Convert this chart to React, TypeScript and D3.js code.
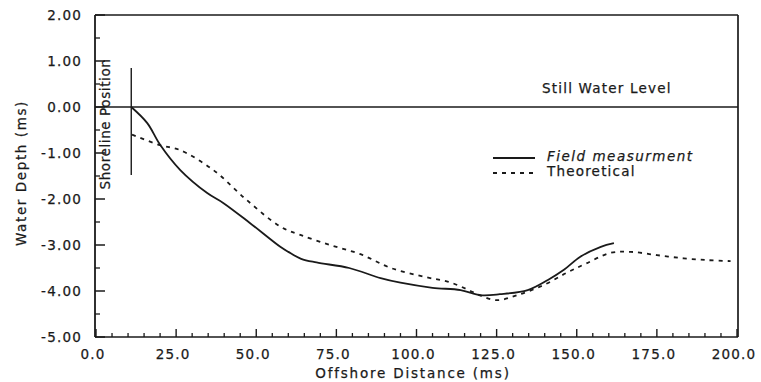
import React from "react";
import * as d3 from "d3";

const fieldX = [11, 16, 20, 26.3, 34.7, 39.8, 48, 57.5, 60, 64, 68.8, 79, 88.8, 95, 105, 113.75, 120, 126, 134.7, 141, 146, 151, 157.5, 161.6];
const fieldY = [0, -0.35, -0.82, -1.37, -1.87, -2.09, -2.52, -3.04, -3.15, -3.3, -3.38, -3.5, -3.72, -3.82, -3.93, -3.98, -4.09, -4.07, -3.98, -3.76, -3.54, -3.26, -3.04, -2.96];
const theoX = [11.25, 20, 26, 36.6, 47, 57.5, 63.75, 73, 82.5, 92, 103, 110, 116, 120, 125, 131.5, 139.7, 147, 153, 160.6, 166.9, 175, 183.4, 191, 198];
const theoY = [-0.6, -0.83, -0.93, -1.37, -2.02, -2.6, -2.78, -3.0, -3.2, -3.5, -3.7, -3.8, -3.97, -4.1, -4.2, -4.09, -3.87, -3.6, -3.4, -3.17, -3.15, -3.22, -3.29, -3.33, -3.35];
const xTicks = [0, 25, 50, 75, 100, 125, 150, 175, 200];
const yTicks = [2, 1, 0, -1, -2, -3, -4, -5];
const legendLabels = ["Field measurment", "Theoretical"];

const W = 761, H = 382;
const FONT = "'DejaVu Sans', sans-serif";
const INK = "#1a1a1a";
const FS = 13.5;

export default function App() {
  const x = d3.scaleLinear().domain([0, 200]).range([96, 737]);
  const y = d3.scaleLinear().domain([-5, 2]).range([337, 15]);
  const line = d3.line<[number, number]>().x(d => x(d[0])).y(d => y(d[1])).curve(d3.curveCatmullRom);
  const field = fieldX.map((v, i) => [v, fieldY[i]] as [number, number]);
  const theo = theoX.map((v, i) => [v, theoY[i]] as [number, number]);
  const x0 = 95, x1 = 738;
  const minorX = d3.range(0, 201, 5).filter(v => v % 25 !== 0);
  const minorY = d3.range(-4.5, 2, 1);
  const txt = { fontFamily: FONT, fontSize: FS, fill: INK, stroke: INK, strokeWidth: 0.25 };
  return (
    <svg width={W} height={H} style={{ position: "absolute", left: 0, top: 0, background: "#fff" }}>
      {/* frame */}
      <line x1={x0} x2={x0} y1={y(2)} y2={y(-5)} stroke={INK} strokeWidth={1.8} />
      <line x1={x0} x2={x1} y1={y(-5)} y2={y(-5)} stroke={INK} strokeWidth={1.6} />
      <line x1={x0} x2={x1} y1={y(2)} y2={y(2)} stroke={INK} strokeWidth={1.4} />
      <line x1={x1} x2={x1} y1={y(2)} y2={y(-5)} stroke={INK} strokeWidth={1.7} />
      {/* still water level */}
      <line x1={x0} x2={x1} y1={y(0)} y2={y(0)} stroke={INK} strokeWidth={1.6} />
      {/* y ticks */}
      {yTicks.map(t => (
        <g key={"yt" + t}>
          <line x1={x0} x2={x0 + 10} y1={y(t)} y2={y(t)} stroke={INK} strokeWidth={1.5} />
          <text x={82} y={y(t)} dy="0.36em" textAnchor="end" letterSpacing={1.2} {...txt}>{t.toFixed(2)}</text>
        </g>
      ))}
      {minorY.map(t => (
        <line key={"ym" + t} x1={x0} x2={x0 + 5} y1={y(t)} y2={y(t)} stroke={INK} strokeWidth={1.3} />
      ))}
      {/* x ticks */}
      {xTicks.map(t => (
        <g key={"xt" + t}>
          <line x1={x(t)} x2={x(t)} y1={y(-5)} y2={y(-5) - 8} stroke={INK} strokeWidth={1.4} />
          <text x={x(t) - 3} y={359} textAnchor="middle" letterSpacing={1.2} {...txt}>{t.toFixed(1)}</text>
        </g>
      ))}
      {minorX.map(t => (
        <line key={"xm" + t} x1={x(t)} x2={x(t)} y1={y(-5)} y2={y(-5) - 4} stroke={INK} strokeWidth={1.3} />
      ))}
      {/* axis titles */}
      <text x={413} y={378} textAnchor="middle" letterSpacing={1.8} {...txt}>Offshore Distance (ms)</text>
      <text transform={`translate(26,173) rotate(-90)`} textAnchor="middle" letterSpacing={1.6} {...txt}>Water Depth (ms)</text>
      {/* shoreline */}
      <line x1={x(11)} x2={x(11)} y1={68} y2={175} stroke={INK} strokeWidth={1.4} />
      <text transform={`translate(110,124) rotate(-90)`} textAnchor="middle" letterSpacing={0.6} {...txt}>Shoreline Position</text>
      <text x={542} y={93} letterSpacing={1.2} {...txt}>Still Water Level</text>
      {/* series */}
      <path d={line(field) || ""} fill="none" stroke={INK} strokeWidth={1.8} />
      <path d={line(theo) || ""} fill="none" stroke={INK} strokeWidth={1.8} strokeDasharray="4,5" />
      {/* legend */}
      <line x1={493} x2={535} y1={158} y2={158} stroke={INK} strokeWidth={1.8} />
      <line x1={493} x2={535} y1={173} y2={173} stroke={INK} strokeWidth={1.8} strokeDasharray="4,5" />
      <text x={547} y={161} fontStyle="italic" letterSpacing={1.5} {...txt}>{legendLabels[0]}</text>
      <text x={547} y={176} letterSpacing={1.2} {...txt}>{legendLabels[1]}</text>
    </svg>
  );
}
